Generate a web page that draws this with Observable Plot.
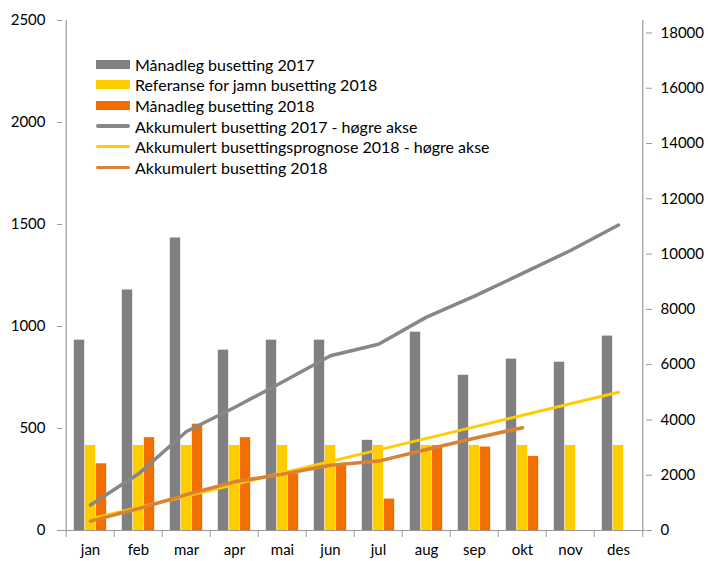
<!DOCTYPE html>
<html>
<head>
<meta charset="utf-8">
<script src="https://cdn.jsdelivr.net/npm/d3@7"></script>
<script src="https://cdn.jsdelivr.net/npm/@observablehq/plot@0.6"></script>
<style>
  html, body { margin: 0; padding: 0; background: #fff; }
  #wrap { position: relative; width: 708px; height: 561px; font-family: Lato, "Open Sans", sans-serif; }
  #legend { position: absolute; left: 96px; top: 54px; font-size: 16px; color: #000; }
  .row { display: flex; align-items: center; height: 20.6px; }
  .sw { width: 34px; margin-right: 5px; display: flex; align-items: center; }
  .sw span { display: block; width: 34px; }
</style>
</head>
<body>
<div id="wrap"><div id="legend"></div></div>
<script>
const months = ["jan","feb","mar","apr","mai","jun","jul","aug","sep","okt","nov","des"];
const monthly2017 = [933, 1179, 1434, 884, 933, 933, 442, 972, 761, 840, 825, 953];
const reference2018 = [417, 417, 417, 417, 417, 417, 417, 417, 417, 417, 417, 417];
const monthly2018 = [327, 455, 521, 455, 278, 319, 154, 416, 409, 363, null, null];
const cumulative2017 = [920, 2050, 3580, 4450, 5370, 6320, 6740, 7720, 8480, 9300, 10130, 11050];
const forecast2018 = [417, 833, 1250, 1667, 2083, 2500, 2917, 3333, 3750, 4167, 4583, 5000];
const cumulative2018 = [340, 790, 1300, 1760, 2040, 2360, 2510, 2930, 3340, 3720, null, null];
const leftTicks = [0, 500, 1000, 1500, 2000, 2500];
const rightTicks = [0, 2000, 4000, 6000, 8000, 10000, 12000, 14000, 16000, 18000];
const seriesNames = [
  "Månadleg busetting 2017",
  "Referanse for jamn busetting 2018",
  "Månadleg busetting 2018",
  "Akkumulert busetting 2017 - høgre akse",
  "Akkumulert busettingsprognose 2018 - høgre akse",
  "Akkumulert busetting 2018"
];
const colors = ["#808080", "#FFCC00", "#F26E00", "#878787", "#FFCC00", "#D98236"];

const leftMax = 2500, rightMax = 18450;
const k = leftMax / rightMax;

const W = 708, H = 561, mL = 62, mR = 63, mT = 20, mB = 31;
const step = (W - mL - mR) / months.length;
const bw = 11;

const rows = months.map((m, i) => ({
  month: m, g: monthly2017[i], yb: reference2018[i], o: monthly2018[i],
  c17: cumulative2017[i], f18: forecast2018[i], c18: cumulative2018[i]
}));
const rows18 = rows.filter(d => d.c18 != null);

const barOpts = (idx) => ({
  insetLeft: step / 2 - 1.5 * bw + idx * bw,
  insetRight: step / 2 + 1.5 * bw - (idx + 1) * bw
});

const chart = Plot.plot({
  width: W, height: H,
  marginLeft: mL, marginRight: mR, marginTop: mT, marginBottom: mB,
  style: { fontFamily: "Lato, 'Open Sans', sans-serif", fontSize: "15px", color: "#000", background: "#fff" },
  x: { type: "band", domain: months, padding: 0, label: null },
  y: { domain: [0, leftMax], label: null },
  marks: [
    Plot.barY(rows, { x: "month", y: "g", fill: colors[0], ...barOpts(0) }),
    Plot.barY(rows, { x: "month", y: "yb", fill: colors[1], ...barOpts(1) }),
    Plot.barY(rows.filter(d => d.o != null), { x: "month", y: "o", fill: colors[2], ...barOpts(2) }),
    Plot.ruleY([0], { stroke: "#9a9a9a", strokeWidth: 1.2 }),
    Plot.ruleX([months[0]], { dx: -step / 2, y1: 0, y2: leftMax, stroke: "#9a9a9a", strokeWidth: 1.2 }),
    Plot.ruleX([months[months.length - 1]], { dx: step / 2, y1: 0, y2: leftMax, stroke: "#9a9a9a", strokeWidth: 1.2 }),
    Plot.ruleX(months, { dx: -step / 2, y1: 0, y2: 0, insetBottom: -7, stroke: "#9a9a9a" }),
    Plot.ruleX([months[months.length - 1]], { dx: step / 2, y1: 0, y2: 0, insetBottom: -7, stroke: "#9a9a9a" }),
    Plot.lineY(rows, { x: "month", y: d => d.c17 * k, stroke: colors[3], strokeWidth: 3.5 }),
    Plot.lineY(rows, { x: "month", y: d => d.f18 * k, stroke: colors[4], strokeWidth: 3 }),
    Plot.lineY(rows18, { x: "month", y: d => d.c18 * k, stroke: colors[5], strokeWidth: 3.5 }),
    Plot.axisY({ ticks: leftTicks, tickFormat: d => String(d), tickSize: 5, tickPadding: 12, stroke: "#9a9a9a", fill: "#000", label: null }),
    Plot.axisY({ anchor: "right", ticks: rightTicks.map(v => v * k), tickFormat: d => String(Math.round(d / k / 1000) * 1000),
      tickSize: 6, tickPadding: 9, stroke: "#9a9a9a", fill: "#000", label: null }),
    Plot.axisX({ tickSize: 0, tickPadding: 14, fill: "#000", label: null })
  ]
});

const wrap = document.getElementById("wrap");
chart.style.position = "absolute";
chart.style.left = "0px";
chart.style.top = "0px";
wrap.insertBefore(chart, wrap.firstChild);

const legend = document.getElementById("legend");
seriesNames.forEach((name, i) => {
  const row = document.createElement("div");
  row.className = "row";
  const sw = document.createElement("div");
  sw.className = "sw";
  const s = document.createElement("span");
  s.style.background = colors[i];
  s.style.height = i < 3 ? "9px" : "3.5px";
  if (i >= 3) s.style.borderRadius = "2px";
  sw.appendChild(s);
  const t = document.createElement("span");
  t.textContent = name;
  row.appendChild(sw);
  row.appendChild(t);
  legend.appendChild(row);
});
</script>
</body>
</html>
